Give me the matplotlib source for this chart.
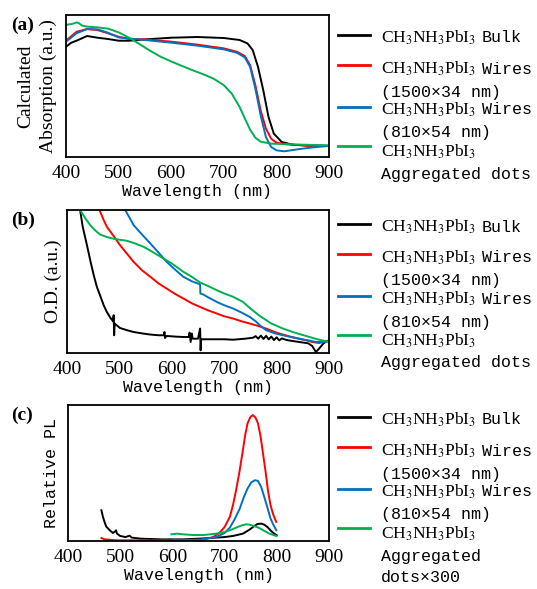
import matplotlib
matplotlib.use("Agg")
import matplotlib.pyplot as plt
from matplotlib.lines import Line2D

plt.rcParams['mathtext.fontset'] = 'stix'

W, H = 537, 589
SERIF = 'Liberation Serif'
MONO = 'Liberation Mono'

colors = ['#000000', '#ff0000', '#0070c0', '#00b050']

# ---- (a) calculated absorption ----
a_bulk_x = [400, 410, 420, 440, 460, 480, 500, 520, 550, 600, 650, 700, 730, 745, 755, 765, 775, 785, 795, 810, 830, 860, 900]
a_bulk_y = [0.776, 0.805, 0.819, 0.852, 0.840, 0.831, 0.819, 0.819, 0.828, 0.840, 0.845, 0.838, 0.824, 0.800, 0.753, 0.635, 0.471, 0.282, 0.165, 0.106, 0.087, 0.080, 0.078]
a_w1_x = [400, 420, 440, 460, 480, 500, 520, 550, 600, 650, 700, 725, 740, 750, 760, 770, 780, 790, 800, 820, 860, 900]
a_w1_y = [0.819, 0.882, 0.901, 0.894, 0.871, 0.847, 0.831, 0.828, 0.812, 0.791, 0.765, 0.741, 0.711, 0.647, 0.506, 0.329, 0.200, 0.129, 0.101, 0.089, 0.080, 0.078]
a_w2_x = [400, 420, 440, 460, 480, 500, 550, 600, 650, 700, 725, 740, 750, 760, 770, 780, 790, 800, 815, 840, 870, 900]
a_w2_y = [0.812, 0.871, 0.901, 0.899, 0.875, 0.842, 0.824, 0.805, 0.784, 0.758, 0.734, 0.701, 0.635, 0.482, 0.294, 0.141, 0.071, 0.047, 0.040, 0.054, 0.068, 0.078]
a_dot_x = [400, 405, 410, 415, 420, 425, 430, 440, 460, 480, 500, 520, 540, 560, 580, 600, 620, 640, 660, 680, 700, 715, 730, 740, 750, 760, 770, 790, 830, 900]
a_dot_y = [0.929, 0.934, 0.936, 0.941, 0.948, 0.941, 0.927, 0.918, 0.913, 0.904, 0.878, 0.840, 0.795, 0.748, 0.706, 0.673, 0.642, 0.612, 0.584, 0.553, 0.506, 0.447, 0.353, 0.271, 0.193, 0.136, 0.108, 0.094, 0.089, 0.082]

# ---- (b) optical density ----
b_bulk_x = [420, 425, 430, 438, 445, 451, 457, 463, 470, 476, 483, 488, 489, 490, 491, 501, 515, 527, 545, 559, 575, 585, 586, 587, 590, 610, 622, 632, 634, 636, 638, 640, 650, 654, 655, 656, 680, 700, 717, 740, 755, 760, 765, 770, 775, 780, 785, 790, 795, 800, 805, 810, 820, 843, 860, 868, 875, 880, 889, 895, 900]
b_bulk_y = [1.10, 1.000, 0.883, 0.755, 0.638, 0.544, 0.463, 0.404, 0.334, 0.287, 0.245, 0.222, 0.264, 0.124, 0.206, 0.175, 0.159, 0.147, 0.136, 0.129, 0.124, 0.124, 0.147, 0.105, 0.119, 0.114, 0.112, 0.112, 0.143, 0.077, 0.136, 0.100, 0.100, 0.171, 0.019, 0.096, 0.096, 0.096, 0.093, 0.100, 0.107, 0.118, 0.100, 0.122, 0.098, 0.120, 0.095, 0.115, 0.090, 0.110, 0.088, 0.102, 0.090, 0.077, 0.068, 0.049, 0.007, 0.026, 0.065, 0.082, 0.089]
b_w1_x = [455, 462, 470, 476, 490, 501, 515, 527, 543, 559, 575, 590, 606, 622, 638, 654, 670, 686, 700, 717, 733, 749, 765, 780, 796, 812, 828, 843, 856, 868, 881, 890, 900]
b_w1_y = [1.05, 1.000, 0.930, 0.883, 0.813, 0.755, 0.692, 0.638, 0.579, 0.533, 0.486, 0.451, 0.414, 0.381, 0.348, 0.322, 0.297, 0.276, 0.257, 0.241, 0.222, 0.206, 0.189, 0.171, 0.147, 0.129, 0.112, 0.100, 0.089, 0.077, 0.070, 0.077, 0.084]
b_w2_x = [505, 511, 520, 527, 543, 559, 575, 590, 606, 622, 638, 654, 654.5, 660, 670, 686, 700, 717, 733, 749, 760, 768, 780, 796, 812, 828, 843, 860, 875, 890, 900]
b_w2_y = [1.05, 1.000, 0.942, 0.895, 0.829, 0.766, 0.701, 0.638, 0.584, 0.533, 0.502, 0.480, 0.416, 0.409, 0.388, 0.357, 0.334, 0.311, 0.283, 0.252, 0.222, 0.194, 0.159, 0.138, 0.124, 0.112, 0.100, 0.089, 0.077, 0.077, 0.084]
b_dot_x = [420, 425, 435, 444, 453, 463, 476, 489, 501, 514, 530, 546, 565, 584, 600, 622, 638, 654, 670, 686, 700, 717, 736, 750, 768, 790, 812, 834, 856, 878, 900]
b_dot_y = [1.05, 1.000, 0.942, 0.895, 0.860, 0.829, 0.811, 0.799, 0.792, 0.785, 0.766, 0.743, 0.703, 0.661, 0.626, 0.568, 0.533, 0.493, 0.467, 0.439, 0.416, 0.393, 0.357, 0.311, 0.259, 0.206, 0.171, 0.143, 0.119, 0.096, 0.077]

# ---- (c) relative PL ----
c_bulk_x = [464, 467, 470, 473, 477, 480, 486, 490, 492, 494, 500, 510, 518, 522, 540, 556, 580, 620, 650, 684, 700, 716, 735, 748, 756, 763, 770, 776, 782, 789, 795, 800]
c_bulk_y = [0.226, 0.177, 0.140, 0.108, 0.091, 0.079, 0.059, 0.069, 0.079, 0.054, 0.037, 0.029, 0.039, 0.025, 0.017, 0.015, 0.012, 0.012, 0.017, 0.025, 0.029, 0.037, 0.054, 0.084, 0.108, 0.125, 0.128, 0.120, 0.103, 0.074, 0.054, 0.042]
c_w1_x = [464, 470, 493, 600, 652, 665, 678, 690, 700, 710, 716, 722, 729, 735, 740, 744, 749, 754, 759, 764, 769, 774, 779, 783, 788, 793, 797, 799]
c_w1_y = [0.022, 0.012, 0.005, 0.005, 0.005, 0.015, 0.029, 0.059, 0.103, 0.177, 0.263, 0.373, 0.521, 0.668, 0.791, 0.865, 0.909, 0.926, 0.909, 0.865, 0.767, 0.631, 0.496, 0.373, 0.263, 0.197, 0.157, 0.140]
c_w2_x = [600, 652, 684, 700, 710, 720, 729, 737, 744, 751, 758, 764, 770, 776, 782, 788, 794, 799]
c_w2_y = [0.005, 0.010, 0.029, 0.059, 0.098, 0.165, 0.238, 0.324, 0.386, 0.430, 0.447, 0.442, 0.398, 0.324, 0.246, 0.165, 0.115, 0.079]
c_dot_x = [598, 610, 620, 640, 660, 684, 700, 710, 722, 733, 742, 750, 758, 765, 774, 786, 799]
c_dot_y = [0.049, 0.054, 0.049, 0.044, 0.044, 0.054, 0.066, 0.079, 0.098, 0.115, 0.123, 0.118, 0.108, 0.098, 0.079, 0.054, 0.037]

x_ticks = [400, 500, 600, 700, 800, 900]

panels = [
    dict(tag='(a)', rect=(66, 15, 329, 157),
         ylabels=[('Calculated', 26), ('Absorption (a.u.)', 48)], yfont=SERIF, ysize=14,
         series=[(a_bulk_x, a_bulk_y), (a_w1_x, a_w1_y), (a_w2_x, a_w2_y), (a_dot_x, a_dot_y)],
         dots=['Aggregated dots'], leg_off=0),
    dict(tag='(b)', rect=(67, 210, 329, 353),
         ylabels=[('O.D. (a.u.)', 53)], yfont=SERIF, ysize=14,
         series=[(b_bulk_x, b_bulk_y), (b_w1_x, b_w1_y), (b_w2_x, b_w2_y), (b_dot_x, b_dot_y)],
         dots=['Aggregated dots'], leg_off=189),
    dict(tag='(c)', rect=(68, 405, 329, 541),
         ylabels=[('Relative PL', 52)], yfont=MONO, ysize=12,
         series=[(c_bulk_x, c_bulk_y), (c_w1_x, c_w1_y), (c_w2_x, c_w2_y), (c_dot_x, c_dot_y)],
         dots=['Aggregated', 'dots\u00d7300'], leg_off=382),
]

compound = r'CH$_3$NH$_3$PbI$_3$'


def fx(x):
    return x / W


def fy(y):
    return 1 - y / H


fig = plt.figure(figsize=(W / 100, H / 100), dpi=100)

for p in panels:
    l, t, r, b = p['rect']
    ax = fig.add_axes([fx(l), fy(b), (r - l) / W, (b - t) / H])
    for (xs, ys), c in zip(p['series'], colors):
        ax.plot(xs, ys, color=c, lw=1.4)
    ax.set_xlim(400, 900)
    ax.set_ylim(0, 1)
    ax.set_yticks([])
    ax.set_xticks(x_ticks)
    ax.set_xticklabels([str(v) for v in x_ticks], fontfamily=SERIF, fontsize=14)
    ax.tick_params(axis='x', length=0, pad=6)
    for s in ax.spines.values():
        s.set_linewidth(1.3)
    ax.set_xlabel('Wavelength (nm)', fontfamily=MONO, fontsize=12, labelpad=1)

    # y label(s), one text per line
    ymid = (t + b) / 2
    for txt, xc in p['ylabels']:
        fig.text(fx(xc), fy(ymid), txt, rotation=90, ha='center', va='center',
                 fontfamily=p['yfont'], fontsize=p['ysize'])
    fig.text(fx(11), fy(t + 10), p['tag'], fontfamily=SERIF, fontsize=14, fontweight='bold', va='center')

    # legend drawn by hand so the handle lines up with the first text line
    o = p['leg_off']
    line_y = [35, 65, 107, 146]
    text_y = [[38], [69, 92], [110, 133], [152, 174, 196]]
    suffix = ['Bulk', 'Wires', 'Wires', None]
    extra = [[], ['(1500\u00d734 nm)'], ['(810\u00d754 nm)'], p['dots']]
    for i, c in enumerate(colors):
        fig.add_artist(Line2D([fx(338), fx(370)], [fy(line_y[i] + o)] * 2, color=c, lw=2,
                              transform=fig.transFigure))
        y1 = text_y[i][0] + o
        fig.text(fx(381), fy(y1), compound, fontfamily=SERIF, fontsize=12.5, va='center')
        if suffix[i]:
            fig.text(fx(482), fy(y1), suffix[i], fontfamily=MONO, fontsize=12, va='center')
        for j, s in enumerate(extra[i]):
            fig.text(fx(381), fy(text_y[i][j + 1] + o), s, fontfamily=MONO, fontsize=12, va='center')

fig.savefig('out.png', dpi=100)
